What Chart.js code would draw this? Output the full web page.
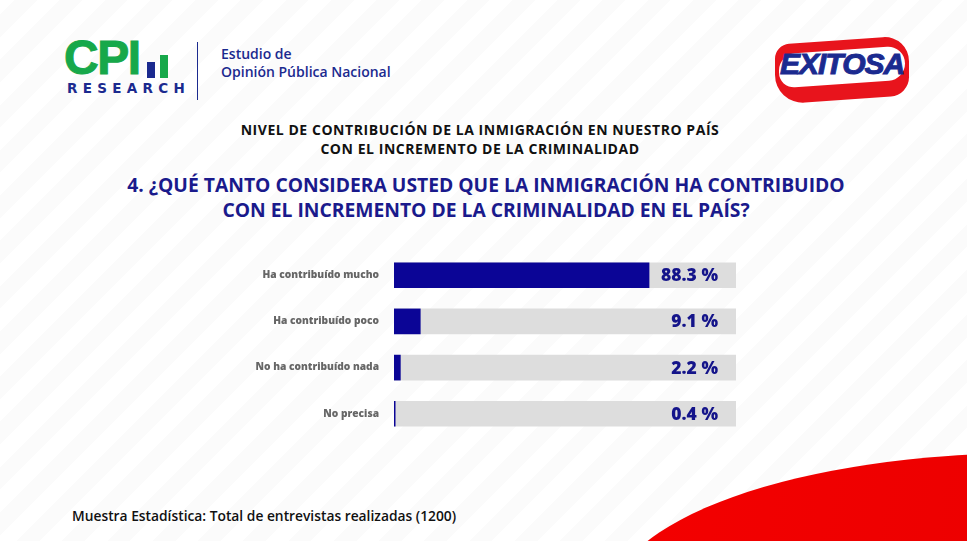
<!DOCTYPE html>
<html>
<head>
<meta charset="utf-8">
<script src="https://cdn.jsdelivr.net/npm/chart.js@4/dist/chart.umd.min.js"></script>
<style>
  body { margin: 0; width: 967px; height: 541px; overflow: hidden; position: relative;
    font-family: "Open Sans", sans-serif;
    background: repeating-linear-gradient(-45deg, #ffffff 0 16px, #fbfbfb 16px 32px); }
  .abs { position: absolute; }
  #swoosh { left: 610px; top: 453px; width: 840px; height: 300px; border-radius: 50%;
    background: linear-gradient(100deg, #f40000, #e40000); }
  #cpi { left: 64px; top: 41px; font: 900 48px "Liberation Sans", Arial, sans-serif; color: #17a84a; letter-spacing: -1.5px; line-height: 34px; -webkit-text-stroke: 1px #17a84a; }
  #bar1 { left: 147px; top: 62px; width: 8px; height: 16px; background: #1b2a8f; }
  #bar2 { left: 160px; top: 55px; width: 8px; height: 23px; background: #17a84a; }
  #research { left: 67px; top: 81px; font: 700 13.5px "DejaVu Sans", sans-serif; color: #1b2a8f; letter-spacing: 5.3px; line-height: 15px; }
  #vline { left: 197px; top: 42px; width: 1px; height: 58px; background: #1b2a8f; }
  #estudio { left: 221px; top: 45px; font: 600 14px "Open Sans", sans-serif; color: #1b2a8f; line-height: 18px; }
  #exi-red { left: 775px; top: 40px; width: 134px; height: 60px; background: #e8141c; border-radius: 14px 26px 18px 30px; transform: skewY(-4deg); }
  #exi-white { left: 779px; top: 50px; width: 126px; height: 34px; background: #ffffff; border-radius: 16px 18px 16px 16px; transform: skewY(-4deg); }
  #exi-text { left: 780px; top: 47px; font: italic 900 30px "Liberation Sans", Arial, sans-serif; color: #1b2a8f; letter-spacing: -1px; -webkit-text-stroke: 1px #1b2a8f; }
  #t1 { left: 0; width: 960px; top: 120px; text-align: center; font: 700 14px "Open Sans", sans-serif; color: #111; line-height: 19px; letter-spacing: 0.55px; }
  #t2 { left: 0; width: 972px; top: 172px; text-align: center; font: 700 19.3px "Open Sans", sans-serif; color: #1a1a8c; line-height: 25px; }
  #foot { left: 72px; top: 506px; font: 600 13.8px "Open Sans", sans-serif; color: #111; }
  #wrap { left: 230px; top: 231px; width: 520px; height: 227px; }
  #wrap canvas { display: block; }
</style>
</head>
<body>
<div class="abs" id="swoosh"></div>
<div class="abs" id="cpi">CPI</div>
<div class="abs" id="bar1"></div>
<div class="abs" id="bar2"></div>
<div class="abs" id="research">RESEARCH</div>
<div class="abs" id="vline"></div>
<div class="abs" id="estudio">Estudio de<br>Opinión Pública Nacional</div>
<div class="abs" id="exi-red"></div>
<div class="abs" id="exi-white"></div>
<div class="abs" id="exi-text">EXITOSA</div>
<div class="abs" id="t1">NIVEL DE CONTRIBUCIÓN DE LA INMIGRACIÓN EN NUESTRO PAÍS<br>CON EL INCREMENTO DE LA CRIMINALIDAD</div>
<div class="abs" id="t2">4. ¿QUÉ TANTO CONSIDERA USTED QUE LA INMIGRACIÓN HA CONTRIBUIDO<br>CON EL INCREMENTO DE LA CRIMINALIDAD EN EL PAÍS?</div>
<div class="abs" id="wrap"><canvas id="chart" width="520" height="227"></canvas></div>
<div class="abs" id="foot">Muestra Estadística: Total de entrevistas realizadas (1200)</div>
<script>
const categories = ['Ha contribuído mucho', 'Ha contribuído poco', 'No ha contribuído nada', 'No precisa'];
const percentages = [88.3, 9.1, 2.2, 0.4];
const scaleMax = 118.4;
const trackValues = categories.map(() => scaleMax);

const valueLabels = {
    id: 'valueLabels',
    afterDatasetsDraw(chart) {
        const ctx = chart.ctx;
        const meta = chart.getDatasetMeta(0);
        ctx.save();
        ctx.font = '800 17.5px "Open Sans", sans-serif';
        ctx.fillStyle = '#14148a';
        ctx.textAlign = 'right';
        ctx.textBaseline = 'middle';
        meta.data.forEach((bar, i) => {
            ctx.fillText(percentages[i].toFixed(1) + ' %', chart.chartArea.right - 18, bar.y + 1);
        });
        ctx.restore();
    }
};

new Chart(document.getElementById('chart'), {
    type: 'bar',
    data: {
        labels: categories,
        datasets: [
            { data: percentages, backgroundColor: '#0b0596', barThickness: 25, order: 0, grouped: false },
            { data: trackValues, backgroundColor: '#dddddd', barThickness: 25, order: 1, grouped: false },
        ],
    },
    options: {
        indexAxis: 'y',
        responsive: false,
        animation: false,
        layout: { padding: { left: 0, right: 14, top: 0, bottom: 0 } },
        plugins: { legend: { display: false }, tooltip: { enabled: false } },
        scales: {
            x: { min: 0, max: scaleMax, display: false },
            y: {
                grid: { display: false, drawTicks: false },
                border: { display: false },
                afterFit: (s) => { s.width = 164; },
                ticks: { padding: 15, color: '#666666', font: { family: 'Open Sans', size: 10.2, weight: '800' } },
            },
        },
    },
    plugins: [valueLabels],
});
</script>
</body>
</html>
